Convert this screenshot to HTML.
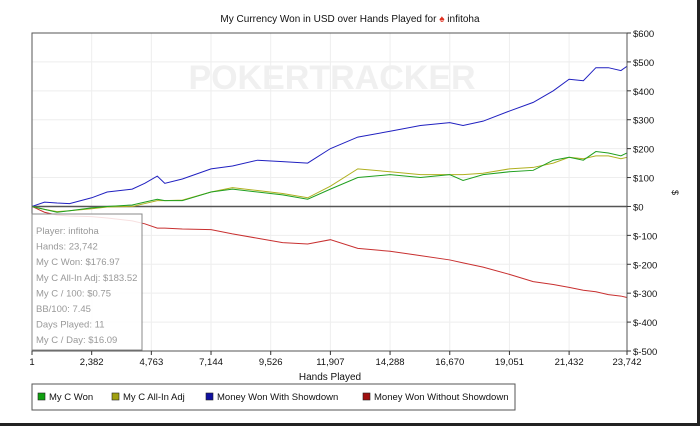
<!DOCTYPE html>
<html><head><meta charset="utf-8"><style>
body{margin:0;background:#fff;}
svg{display:block;font-family:"Liberation Sans",sans-serif;}
</style></head><body>
<svg id="c" width="700" height="426">
<rect x="0" y="0" width="700" height="426" fill="#fff"/>
<rect x="697" y="0" width="3" height="426" fill="#222"/>
<rect x="0" y="423" width="700" height="3" fill="#222"/>
<text x="350" y="22" font-size="10" text-anchor="middle" fill="#111">My Currency Won in USD over Hands Played for <tspan fill="#e03020">♠</tspan> infitoha</text>
<g id="grid"></g>
<text x="332" y="89" font-size="34" font-weight="bold" text-anchor="middle" fill="#f0f0f0">POKERTRACKER</text>
<g id="series"></g>
<rect x="32" y="33" width="595" height="318" fill="none" stroke="#555" stroke-width="1"/>
<g id="axes"></g>
<text x="672" y="190" font-size="9" transform="rotate(90 672 190)" fill="#111">$</text>
<text x="330" y="380" font-size="10" text-anchor="middle" fill="#111">Hands Played</text>
<g>
<rect x="32" y="214" width="110" height="136" fill="#fff" fill-opacity="0.85" stroke="#888"/>
<g id="tt" font-size="9.5" fill="#999"></g></g>
<g id="legend">
<rect x="32" y="384" width="483" height="26" fill="#fff" stroke="#555"/>
</g>
</svg>
<script>
const xTicks=[1,2382,4763,7144,9526,11907,14288,16670,19051,21432,23742];
const yTicks=[600,500,400,300,200,100,0,-100,-200,-300,-400,-500];
const hands=[1,500,1000,1500,2382,3000,4000,4500,5000,5300,6000,7144,8000,9000,10000,11000,11907,13000,14288,15500,16670,17200,18000,19051,20000,20800,21432,22000,22500,23000,23500,23742];
const showdown=[0,15,12,10,30,50,60,80,105,80,95,130,140,160,155,150,200,240,260,280,290,280,295,330,360,400,440,435,480,480,470,485];
const cwon=[0,-10,-20,-15,-5,0,5,15,25,20,20,50,60,50,40,25,60,100,110,100,110,90,110,120,125,160,170,160,190,185,175,185];
const allin=[0,-10,-18,-15,-8,-2,0,10,20,20,22,50,65,55,45,30,70,130,120,110,110,110,115,130,135,150,170,165,175,175,165,170];
const noshow=[0,-20,-30,-33,-35,-40,-50,-60,-75,-75,-78,-80,-95,-110,-125,-130,-115,-145,-155,-170,-185,-195,-210,-235,-260,-270,-280,-290,-295,-305,-310,-315];
const seriesNames=["My C Won","My C All-In Adj","Money Won With Showdown","Money Won Without Showdown"];
const tooltipLines=["Player: infitoha","Hands: 23,742","My C Won: $176.97","My C All-In Adj: $183.52","My C / 100: $0.75","BB/100: 7.45","Days Played: 11","My C / Day: $16.09"];
const X0=32,X1=627,Y0=33,Y1=351;
const xs=h=>X0+(h-1)/(23742-1)*(X1-X0);
const ys=v=>Y0+(600-v)/1100*(Y1-Y0);
const NS="http://www.w3.org/2000/svg";
function mk(t,a,p){const e=document.createElementNS(NS,t);for(const k in a)e.setAttribute(k,a[k]);p.appendChild(e);return e;}
const grid=document.getElementById('grid'),axes=document.getElementById('axes'),ser=document.getElementById('series');
xTicks.forEach(t=>{const x=xs(t);
const g=mk('line',{x1:x,x2:x,y1:Y0,y2:Y1,stroke:'#eee'},grid);

const tk=mk('line',{x1:x,x2:x,y1:Y1,y2:Y1+4,stroke:'#333'},axes);

const l=mk('text',{x:x,y:Y1+14,'font-size':9.5,'text-anchor':'middle',fill:'#111'},axes);l.textContent=t.toLocaleString('en-US');
});
yTicks.forEach(t=>{const y=ys(t);
const g=mk('line',{x1:X0,x2:X1,y1:y,y2:y,stroke:t===0?'#555':'#eee','stroke-width':t===0?1.5:1},grid);

const tk=mk('line',{x1:X1,x2:X1+4,y1:y,y2:y,stroke:'#333'},axes);

const l=mk('text',{x:X1+6,y:y+4,'font-size':9.5,fill:'#111'},axes);l.textContent=t<0?'$-'+(-t):'$'+t;
});
const data=[[noshow,'#c83030','series-no-showdown'],[showdown,'#2020c0','series-showdown'],[allin,'#b0b020','series-all-in-adj'],[cwon,'#20a020','series-c-won']];
data.forEach(([arr,col,nm])=>{const p=mk('polyline',{points:arr.map((v,i)=>xs(hands[i])+','+ys(v)).join(' '),fill:'none',stroke:col,'stroke-width':1},ser);
});
const tt=document.getElementById('tt');
tooltipLines.forEach((s,i)=>{const t=mk('text',{x:36,y:234+i*15.6},tt);t.textContent=s;
});
const leg=document.getElementById('legend');
const cols=['#10a010','#a0a010','#1010a0','#a01010'];const lx=[38,112,206,363];
seriesNames.forEach((n,i)=>{const r=mk('rect',{x:lx[i],y:393,width:7,height:7,fill:cols[i],stroke:'#222','stroke-width':0.6},leg);

const t=mk('text',{x:lx[i]+11,y:400,'font-size':9.5,fill:'#111'},leg);t.textContent=n;
});
</script>
</body></html>
